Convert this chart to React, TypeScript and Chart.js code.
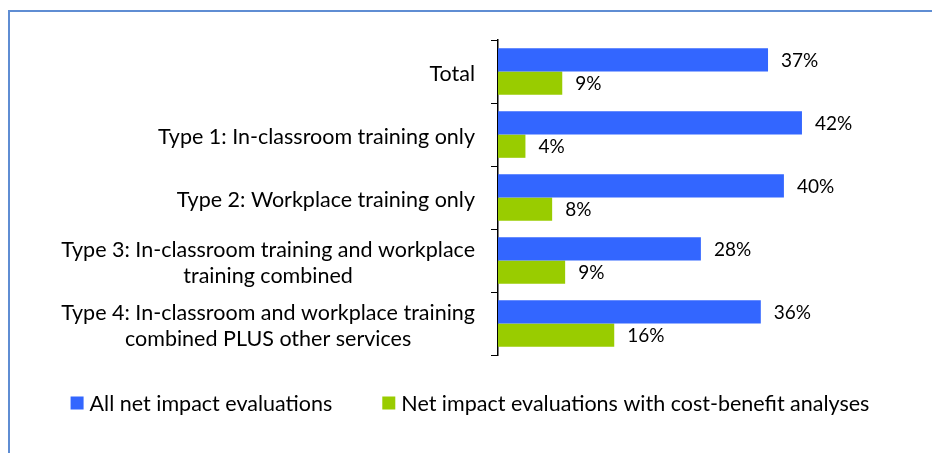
import React, { useEffect, useRef } from "react";
import { Chart, registerables } from "chart.js";
Chart.register(...registerables);

const categories: string[][] = [
  ["Total"],
  ["Type 1: In-classroom training only"],
  ["Type 2: Workplace training only"],
  ["Type 3: In-classroom training and workplace", "training combined"],
  ["Type 4: In-classroom and workplace training", "combined PLUS other services"],
];
const seriesNames = ["All net impact evaluations", "Net impact evaluations with cost-benefit analyses"];
const allNetImpact = [37.4, 42.1, 39.6, 28.1, 36.4];
const withCostBenefit = [8.9, 3.8, 7.5, 9.3, 16.1];
const seriesColors = ["#3366FF", "#99CC00"];

const FONT_FAMILY = "Lato";
const LABEL_SIZE = 21.5;
const VALUE_SIZE = 19;
const LINE_H = 26;
const W = 920;
const H = 441;

const customPlugin = {
  id: "customText",
  afterDatasetsDraw(chart: any) {
    const ctx = chart.ctx as CanvasRenderingContext2D;
    ctx.save();
    ctx.fillStyle = "#000";
    ctx.textBaseline = "middle";
    // value labels
    ctx.font = `${VALUE_SIZE}px ${FONT_FAMILY}`;
    chart.data.datasets.forEach((ds: any, di: number) => {
      const meta = chart.getDatasetMeta(di);
      meta.data.forEach((bar: any, i: number) => {
        ctx.textAlign = "left";
        ctx.fillText(Math.round(ds.data[i]) + "%", bar.x + 13, bar.y + 1);
      });
    });
    // category labels (block right-aligned, lines centered)
    ctx.font = `${LABEL_SIZE}px ${FONT_FAMILY}`;
    const yScale = chart.scales.y;
    const right = yScale.right - 23;
    categories.forEach((lines, i) => {
      const cy = yScale.getPixelForValue(i) + 2.5;
      const w = Math.max(...lines.map((l) => ctx.measureText(l).width));
      const cx = right - w / 2;
      ctx.textAlign = "center";
      lines.forEach((l, j) => ctx.fillText(l, cx, cy + (j - (lines.length - 1) / 2) * LINE_H));
    });
    // legend
    const box = 13;
    const gapBox = 6;
    const gapItem = 50;
    const widths = seriesNames.map((n) => ctx.measureText(n).width);
    const total = widths.reduce((a, b) => a + b, 0) + seriesNames.length * (box + gapBox) + gapItem * (seriesNames.length - 1);
    let x = chart.width / 2 - total / 2;
    const ly = 391;
    seriesNames.forEach((n, i) => {
      ctx.fillStyle = seriesColors[i];
      ctx.fillRect(x, ly - box / 2, box, box);
      x += box + gapBox;
      ctx.fillStyle = "#000";
      ctx.textAlign = "left";
      ctx.fillText(n, x, ly + 1);
      x += widths[i] + gapItem;
    });
    ctx.restore();
  },
};

export default function App() {
  const ref = useRef<HTMLCanvasElement>(null);
  useEffect(() => {
    if (!ref.current) return;
    const chart = new Chart(ref.current, {
      type: "bar",
      data: {
        labels: categories.map((c) => c.join(" ")),
        datasets: [
          { label: seriesNames[0], data: allNetImpact, backgroundColor: seriesColors[0], borderWidth: 0, categoryPercentage: 0.74, barPercentage: 1 },
          { label: seriesNames[1], data: withCostBenefit, backgroundColor: seriesColors[1], borderWidth: 0, categoryPercentage: 0.74, barPercentage: 1 },
        ],
      },
      options: {
        indexAxis: "y",
        responsive: false,
        animation: false,
        devicePixelRatio: 1,
        layout: { padding: { top: 28, bottom: 98, left: 0, right: 71 } },
        plugins: { legend: { display: false }, tooltip: { enabled: false } },
        scales: {
          x: { display: false, min: 0, max: 50 },
          y: {
            afterFit: (s: any) => {
              s.width = 488;
            },
            ticks: { display: false },
            grid: { drawOnChartArea: false, drawTicks: true, tickLength: 7, color: "#000", offset: true, lineWidth: 1 },
            border: { display: true, color: "#000", width: 1.5 },
          },
        },
      },
      plugins: [customPlugin],
    });
    return () => chart.destroy();
  }, []);
  return (
    <div style={{ position: "fixed", inset: 0, overflow: "hidden", background: "#fff" }}>
      <div
        style={{
          position: "absolute",
          left: 8,
          top: 10,
          width: 940,
          height: 470,
          border: "2px solid #5f8dd3",
        }}
      >
        <canvas ref={ref} width={W} height={H} style={{ display: "block", width: W, height: H }} />
      </div>
    </div>
  );
}
